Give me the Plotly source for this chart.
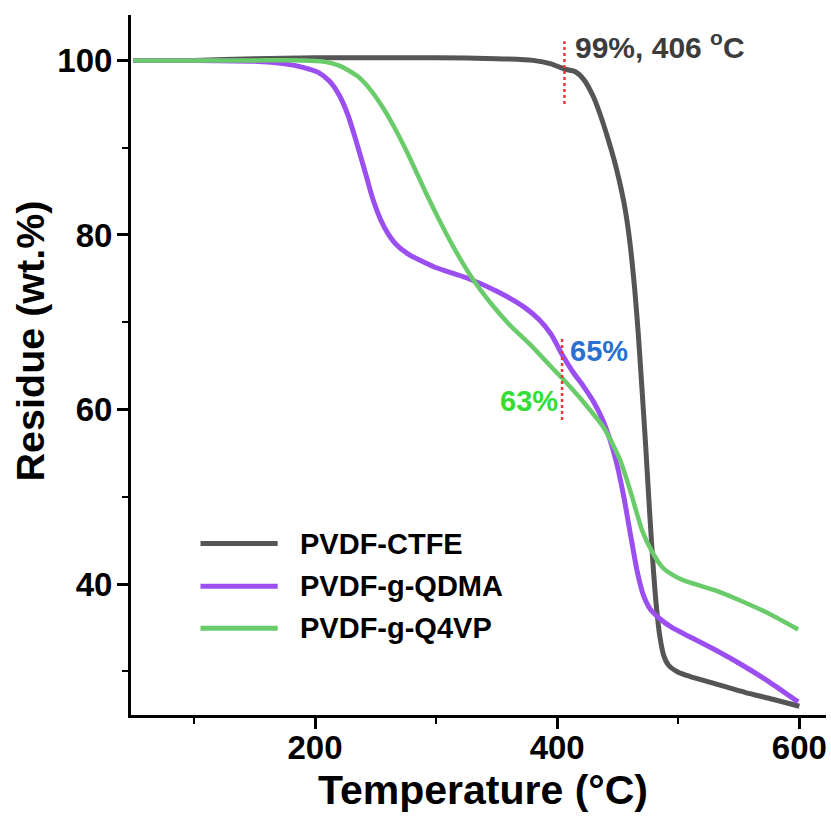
import plotly.graph_objects as go

# ---------------- data ----------------
ctfe_T = [50, 100, 150, 200, 250, 300, 350, 380, 395, 406, 415, 422, 430, 436, 442, 447, 451, 455,
          458, 461, 464, 467, 470, 473, 476, 479, 482, 485, 488, 492, 500, 510, 530, 555, 578, 600]
ctfe_W = [100, 100, 100.2, 100.3, 100.3, 100.3, 100.2, 100, 99.6, 99, 98.7, 97.8, 95.8, 93.6, 91.0, 88.6, 86.4, 83.8,
          81.3, 78.0, 73.8, 68.6, 62.4, 56.0, 49.0, 42.5, 37.3, 33.8, 31.8, 30.7, 29.9, 29.4, 28.6, 27.6, 26.8, 26.0]

qdma_T = [50, 100, 150, 175, 190, 203, 212, 220, 227, 233, 242, 248, 254, 260, 267, 277, 299, 325, 351,
          373, 385, 395, 404, 413, 422, 430, 437, 443, 449, 455, 461, 466, 471, 477, 485, 495, 509,
          530, 553, 575, 599]
qdma_W = [100, 100, 99.9, 99.6, 99.2, 98.6, 97.6, 96, 93.8, 91.2, 86.9, 84.0, 81.8, 80.2, 78.9, 77.8, 76.3, 75.1, 73.5,
          71.7, 70.3, 68.6, 66.3, 64.3, 62.6, 60.9, 59.0, 56.8, 53.9, 50.0, 45.3, 41.5, 38.8, 37.1, 36.0, 35.0, 34.0,
          32.5, 30.7, 28.8, 26.5]

q4vp_T = [50, 100, 150, 190, 205, 220, 235, 246, 256, 266, 277, 290, 303, 316, 330, 345, 360, 378, 395,
          404, 422, 439, 452, 461, 470, 478, 487, 496, 505, 530, 553, 575, 599]
q4vp_W = [100, 100, 100, 100, 99.9, 99.4, 98.2, 96.6, 94.6, 92.2, 89.2, 85.3, 81.6, 78.2, 75.0, 72.2, 69.8, 67.4, 64.9,
          63.6, 60.8, 57.8, 54.2, 50.4, 46.2, 43.8, 41.9, 41.0, 40.4, 39.3, 38.0, 36.6, 34.8]

series_names = ["PVDF-CTFE", "PVDF-g-QDMA", "PVDF-g-Q4VP"]
series_colors = ["#555555", "#9b4ff0", "#6acb6a"]

marker1_T = [406, 406]
marker1_W = [95.0, 102.2]
marker2_T = [404, 404]
marker2_W = [58.8, 68.3]

x_ticks = [200, 400, 600]
x_minor = [100, 300, 500]
y_ticks = [40, 60, 80, 100]
y_minor = [30, 50, 70, 90]

FONT = "Liberation Sans, Arial, sans-serif"

fig = go.Figure()
for T, W, name, col, w in [(ctfe_T, ctfe_W, series_names[0], series_colors[0], 5),
                           (qdma_T, qdma_W, series_names[1], series_colors[1], 5),
                           (q4vp_T, q4vp_W, series_names[2], series_colors[2], 4.5)]:
    fig.add_trace(go.Scatter(x=T, y=W, mode="lines", name=name,
                             line=dict(color=col, width=w, shape="spline", smoothing=0.6),
                             showlegend=False))

for T, W in [(marker1_T, marker1_W), (marker2_T, marker2_W)]:
    fig.add_trace(go.Scatter(x=T, y=W, mode="lines", showlegend=False,
                             line=dict(color="#e8383a", width=2.5, dash="dot")))

# manual legend (long line samples)
leg_y = [0.245, 0.184, 0.124]
for name, col, yy in zip(series_names, series_colors, leg_y):
    fig.add_shape(type="line", xref="paper", yref="paper", x0=0.10, x1=0.211, y0=yy, y1=yy,
                  line=dict(color=col, width=5))
    fig.add_annotation(xref="paper", yref="paper", x=0.24, y=yy, text=name, showarrow=False,
                       xanchor="left", yanchor="middle",
                       font=dict(family=FONT, size=29, color="black", weight="bold"))

# text annotations
fig.add_annotation(x=413, y=101.8, text="99%, 406 <sup>o</sup>C", showarrow=False,
                   xanchor="left", yanchor="middle",
                   font=dict(family=FONT, size=30, color="#3c3c3c", weight="bold"))
fig.add_annotation(x=409, y=66.7, text="65%", showarrow=False, xanchor="left", yanchor="middle",
                   font=dict(family=FONT, size=29, color="#2a6fd2", weight="bold"))
fig.add_annotation(x=402, y=61.0, text="63%", showarrow=False, xanchor="right", yanchor="middle",
                   font=dict(family=FONT, size=29, color="#33dd33", weight="bold"))

# axis titles
fig.add_annotation(xref="paper", yref="paper", x=0.506, y=-0.107, text="Temperature (°C)",
                   showarrow=False, xanchor="center", yanchor="middle",
                   font=dict(family=FONT, size=41, color="black", weight="bold"))
fig.add_annotation(xref="paper", yref="paper", x=-0.145, y=0.534, text="Residue (wt.%)",
                   showarrow=False, xanchor="center", yanchor="middle", textangle=-90,
                   font=dict(family=FONT, size=39.5, color="black", weight="bold"))

fig.update_layout(
    width=831, height=837,
    margin=dict(l=131, r=5, t=15, b=122),
    paper_bgcolor="white", plot_bgcolor="white",
    font=dict(family=FONT, color="black"),
    xaxis=dict(range=[48, 622], tickvals=x_ticks, ticks="outside", ticklen=11, tickwidth=3,
               tickcolor="black", showline=True, linecolor="black", linewidth=3,
               showgrid=False, zeroline=False, ticklabelstandoff=-10,
               tickfont=dict(family=FONT, size=33, color="black", weight="bold"),
               minor=dict(tickvals=x_minor, ticks="outside", ticklen=6, tickwidth=2,
                          tickcolor="black", showgrid=False)),
    yaxis=dict(range=[25, 105.2], tickvals=y_ticks, ticks="outside", ticklen=11, tickwidth=3,
               tickcolor="black", showline=True, linecolor="black", linewidth=3,
               showgrid=False, zeroline=False, ticklabelstandoff=-2,
               tickfont=dict(family=FONT, size=33, color="black", weight="bold"),
               minor=dict(tickvals=y_minor, ticks="outside", ticklen=6, tickwidth=2,
                          tickcolor="black", showgrid=False)),
)

fig.write_html("out.html", config={"displayModeBar": False},
               post_script="document.body.style.margin='0';document.body.style.overflow='hidden';")
